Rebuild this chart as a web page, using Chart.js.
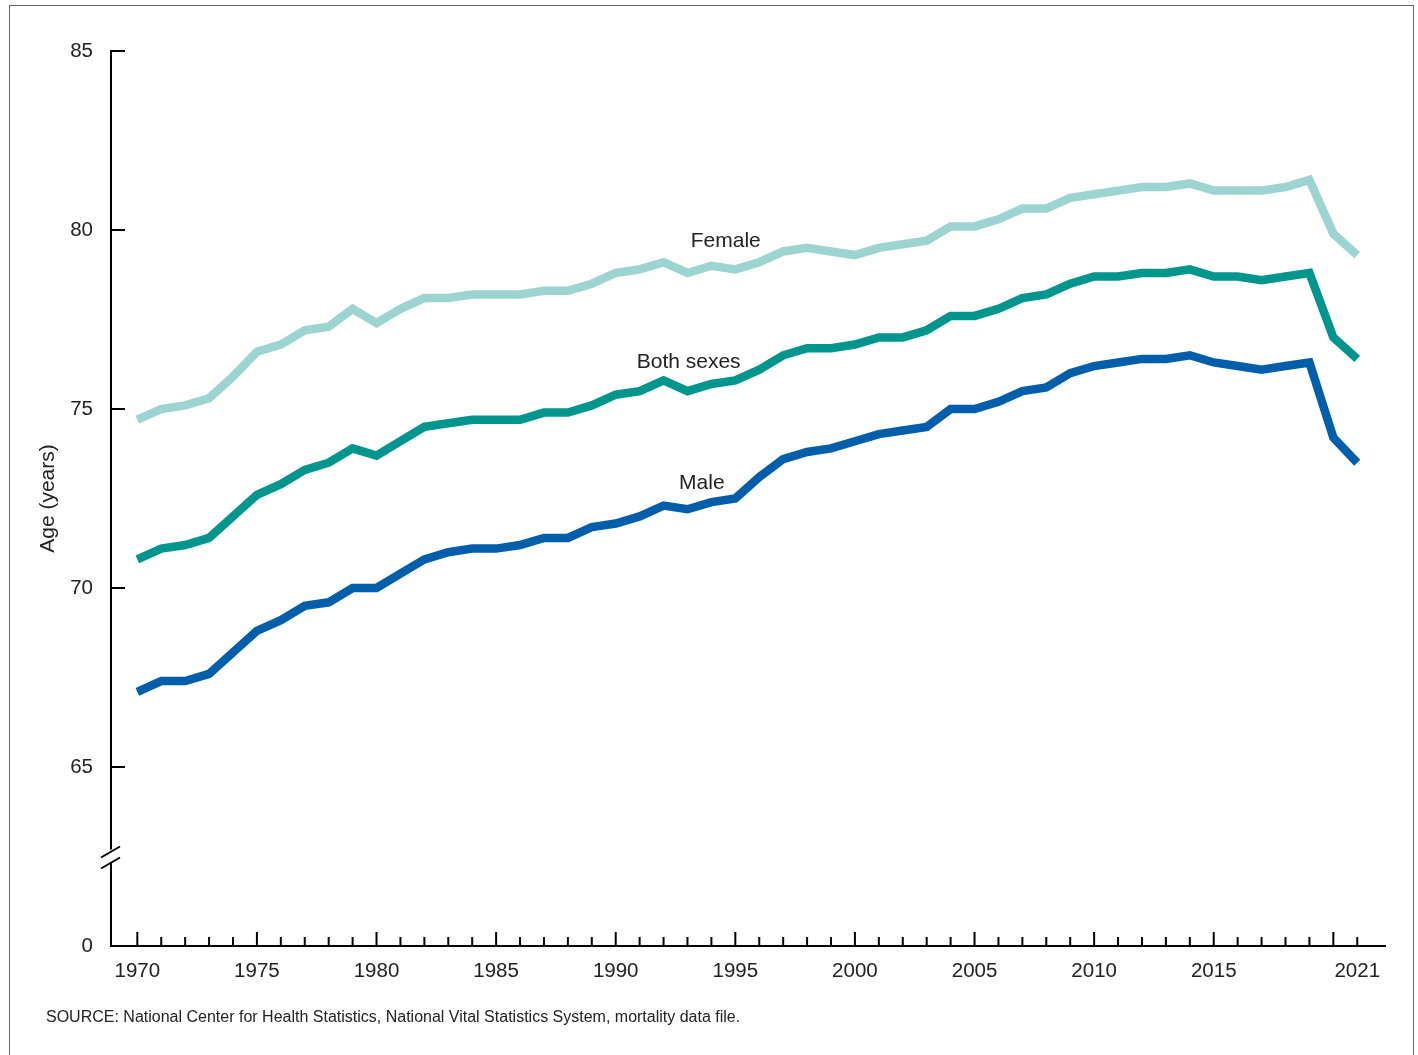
<!DOCTYPE html>
<html>
<head>
<meta charset="utf-8">
<script src="https://cdn.jsdelivr.net/npm/chart.js@4.4.1/dist/chart.umd.min.js"></script>
<style>
  html, body { margin: 0; padding: 0; background: #fff; }
  #wrap { position: relative; width: 1418px; height: 1055px; overflow: hidden; background: #fff; }
  #frame { position: absolute; left: 9px; top: 5px; width: 1405px; height: 1100px; border: 1.5px solid #666; box-sizing: border-box; }
  #chart { position: absolute; left: 0; top: 0; }
  #source { position: absolute; left: 46px; top: 1008px; font: 16px "Liberation Sans", Arial, sans-serif; color: #222; white-space: nowrap; }
</style>
</head>
<body>
<div id="wrap">
  <div id="frame"></div>
  <canvas id="chart" width="1418" height="1055"></canvas>
  <div id="source">SOURCE: National Center for Health Statistics, National Vital Statistics System, mortality data file.</div>
</div>
<script>
// ===== DADOS =====
const anos = [1970, 1971, 1972, 1973, 1974, 1975, 1976, 1977, 1978, 1979,
  1980, 1981, 1982, 1983, 1984, 1985, 1986, 1987, 1988, 1989,
  1990, 1991, 1992, 1993, 1994, 1995, 1996, 1997, 1998, 1999,
  2000, 2001, 2002, 2003, 2004, 2005, 2006, 2007, 2008, 2009,
  2010, 2011, 2012, 2013, 2014, 2015, 2016, 2017, 2018, 2019,
  2020, 2021];

const feminino = [74.7, 75.0, 75.1, 75.3, 75.9, 76.6, 76.8, 77.2, 77.3, 77.8,
  77.4, 77.8, 78.1, 78.1, 78.2, 78.2, 78.2, 78.3, 78.3, 78.5,
  78.8, 78.9, 79.1, 78.8, 79.0, 78.9, 79.1, 79.4, 79.5, 79.4,
  79.3, 79.5, 79.6, 79.7, 80.1, 80.1, 80.3, 80.6, 80.6, 80.9,
  81.0, 81.1, 81.2, 81.2, 81.3, 81.1, 81.1, 81.1, 81.2, 81.4,
  79.9, 79.3];

const ambos = [70.8, 71.1, 71.2, 71.4, 72.0, 72.6, 72.9, 73.3, 73.5, 73.9,
  73.7, 74.1, 74.5, 74.6, 74.7, 74.7, 74.7, 74.9, 74.9, 75.1,
  75.4, 75.5, 75.8, 75.5, 75.7, 75.8, 76.1, 76.5, 76.7, 76.7,
  76.8, 77.0, 77.0, 77.2, 77.6, 77.6, 77.8, 78.1, 78.2, 78.5,
  78.7, 78.7, 78.8, 78.8, 78.9, 78.7, 78.7, 78.6, 78.7, 78.8,
  77.0, 76.4];

const masculino = [67.1, 67.4, 67.4, 67.6, 68.2, 68.8, 69.1, 69.5, 69.6, 70.0,
  70.0, 70.4, 70.8, 71.0, 71.1, 71.1, 71.2, 71.4, 71.4, 71.7,
  71.8, 72.0, 72.3, 72.2, 72.4, 72.5, 73.1, 73.6, 73.8, 73.9,
  74.1, 74.3, 74.4, 74.5, 75.0, 75.0, 75.2, 75.5, 75.6, 76.0,
  76.2, 76.3, 76.4, 76.4, 76.5, 76.3, 76.2, 76.1, 76.2, 76.3,
  74.2, 73.5];

// tick labels
const anosRotulo = [1970, 1975, 1980, 1985, 1990, 1995, 2000, 2005, 2010, 2015, 2021];
const idadesTick = [60, 65, 70, 75, 80, 85]; // 60 fica no lugar do "0" (eixo quebrado)

// rótulos das linhas: [texto, ano, idade]
const rotulosLinhas = [
  ["Female", 1994.6, 79.68],
  ["Both sexes", 1993.05, 76.3],
  ["Male", 1993.6, 72.93],
];

// ===== CORES =====
const corFem = "#9bd4d0";
const corAmbos = "#00958d";
const corMasc = "#005eaa";

Chart.defaults.font.family = '"Liberation Sans", Arial, sans-serif';
Chart.defaults.color = "#222";

function serie(valores) {
  return anos.map((a, i) => ({ x: a, y: valores[i] }));
}

// desenha eixo y com quebra, ticks internos e rótulos das linhas
const marcasEixo = {
  id: "marcasEixo",
  afterDraw(chart) {
    const { ctx, chartArea, scales } = chart;
    const x = scales.x, y = scales.y;
    const esq = chartArea.left;
    const base = chartArea.bottom;
    const quebra = y.getPixelForValue(62.5);

    ctx.save();
    ctx.strokeStyle = "#000";
    ctx.lineWidth = 2;
    ctx.lineCap = "butt";

    // eixo y (com quebra)
    ctx.beginPath();
    ctx.moveTo(esq, y.getPixelForValue(85) - 1);
    ctx.lineTo(esq, quebra - 7);
    ctx.moveTo(esq, quebra + 6);
    ctx.lineTo(esq, base);
    ctx.stroke();

    // sinal de quebra
    ctx.beginPath();
    ctx.moveTo(esq - 10, quebra + 1);
    ctx.lineTo(esq + 9, quebra - 10);
    ctx.moveTo(esq - 10, quebra + 12);
    ctx.lineTo(esq + 9, quebra + 1);
    ctx.stroke();

    // ticks do eixo y (para dentro)
    idadesTick.forEach((v) => {
      if (v === 60) return;
      const py = y.getPixelForValue(v);
      ctx.beginPath();
      ctx.moveTo(esq, py);
      ctx.lineTo(esq + 14, py);
      ctx.stroke();
    });

    // ticks do eixo x (para cima)
    anos.forEach((a) => {
      const px = x.getPixelForValue(a);
      const len = a % 5 === 0 ? 14 : 9;
      ctx.beginPath();
      ctx.moveTo(px, base);
      ctx.lineTo(px, base - len);
      ctx.stroke();
    });

    // rótulos das séries
    ctx.fillStyle = "#222";
    ctx.font = '21px "Liberation Sans", Arial, sans-serif';
    ctx.textAlign = "center";
    ctx.textBaseline = "middle";
    rotulosLinhas.forEach(([txt, ano, idade]) => {
      ctx.fillText(txt, x.getPixelForValue(ano), y.getPixelForValue(idade));
    });
    ctx.restore();
  },
};

const linha = (rotulo, dados, cor) => ({
  label: rotulo,
  data: serie(dados),
  borderColor: cor,
  backgroundColor: cor,
  borderWidth: 8.5,
  pointRadius: 0,
  tension: 0,
  borderJoinStyle: "miter",
  borderCapStyle: "butt",
  fill: false,
});

new Chart(document.getElementById("chart"), {
  type: "line",
  data: {
    datasets: [
      linha("Female", feminino, corFem),
      linha("Both sexes", ambos, corAmbos),
      linha("Male", masculino, corMasc),
    ],
  },
  options: {
    responsive: false,
    animation: false,
    devicePixelRatio: 1,
    layout: { padding: { left: 0, right: 33, top: 51, bottom: 69 } },
    plugins: {
      legend: { display: false },
      tooltip: { enabled: false },
    },
    scales: {
      x: {
        type: "linear",
        min: 1968.9,
        max: 2022.16,
        afterBuildTicks: (s) => { s.ticks = anosRotulo.map((v) => ({ value: v })); },
        afterFit: (s) => { s.height = 40; },
        ticks: {
          font: { size: 20.5 },
          color: "#222",
          padding: 13,
          autoSkip: false,
          maxRotation: 0,
          callback: (v) => String(v),
        },
        grid: { display: false, drawTicks: false },
        border: { display: true, color: "#000", width: 2 },
      },
      y: {
        type: "linear",
        min: 60,
        max: 85,
        afterBuildTicks: (s) => { s.ticks = idadesTick.map((v) => ({ value: v })); },
        afterFit: (s) => { s.width = 111; },
        ticks: {
          font: { size: 20.5 },
          color: "#222",
          padding: 18,
          callback: (v) => (v === 60 ? "0" : String(v)),
        },
        title: {
          display: true,
          text: "Age (years)",
          font: { size: 21 },
          color: "#222",
          padding: { top: 36, bottom: 0 },
        },
        grid: { display: false, drawTicks: false },
        border: { display: false },
      },
    },
  },
  plugins: [marcasEixo],
});
</script>
</body>
</html>
